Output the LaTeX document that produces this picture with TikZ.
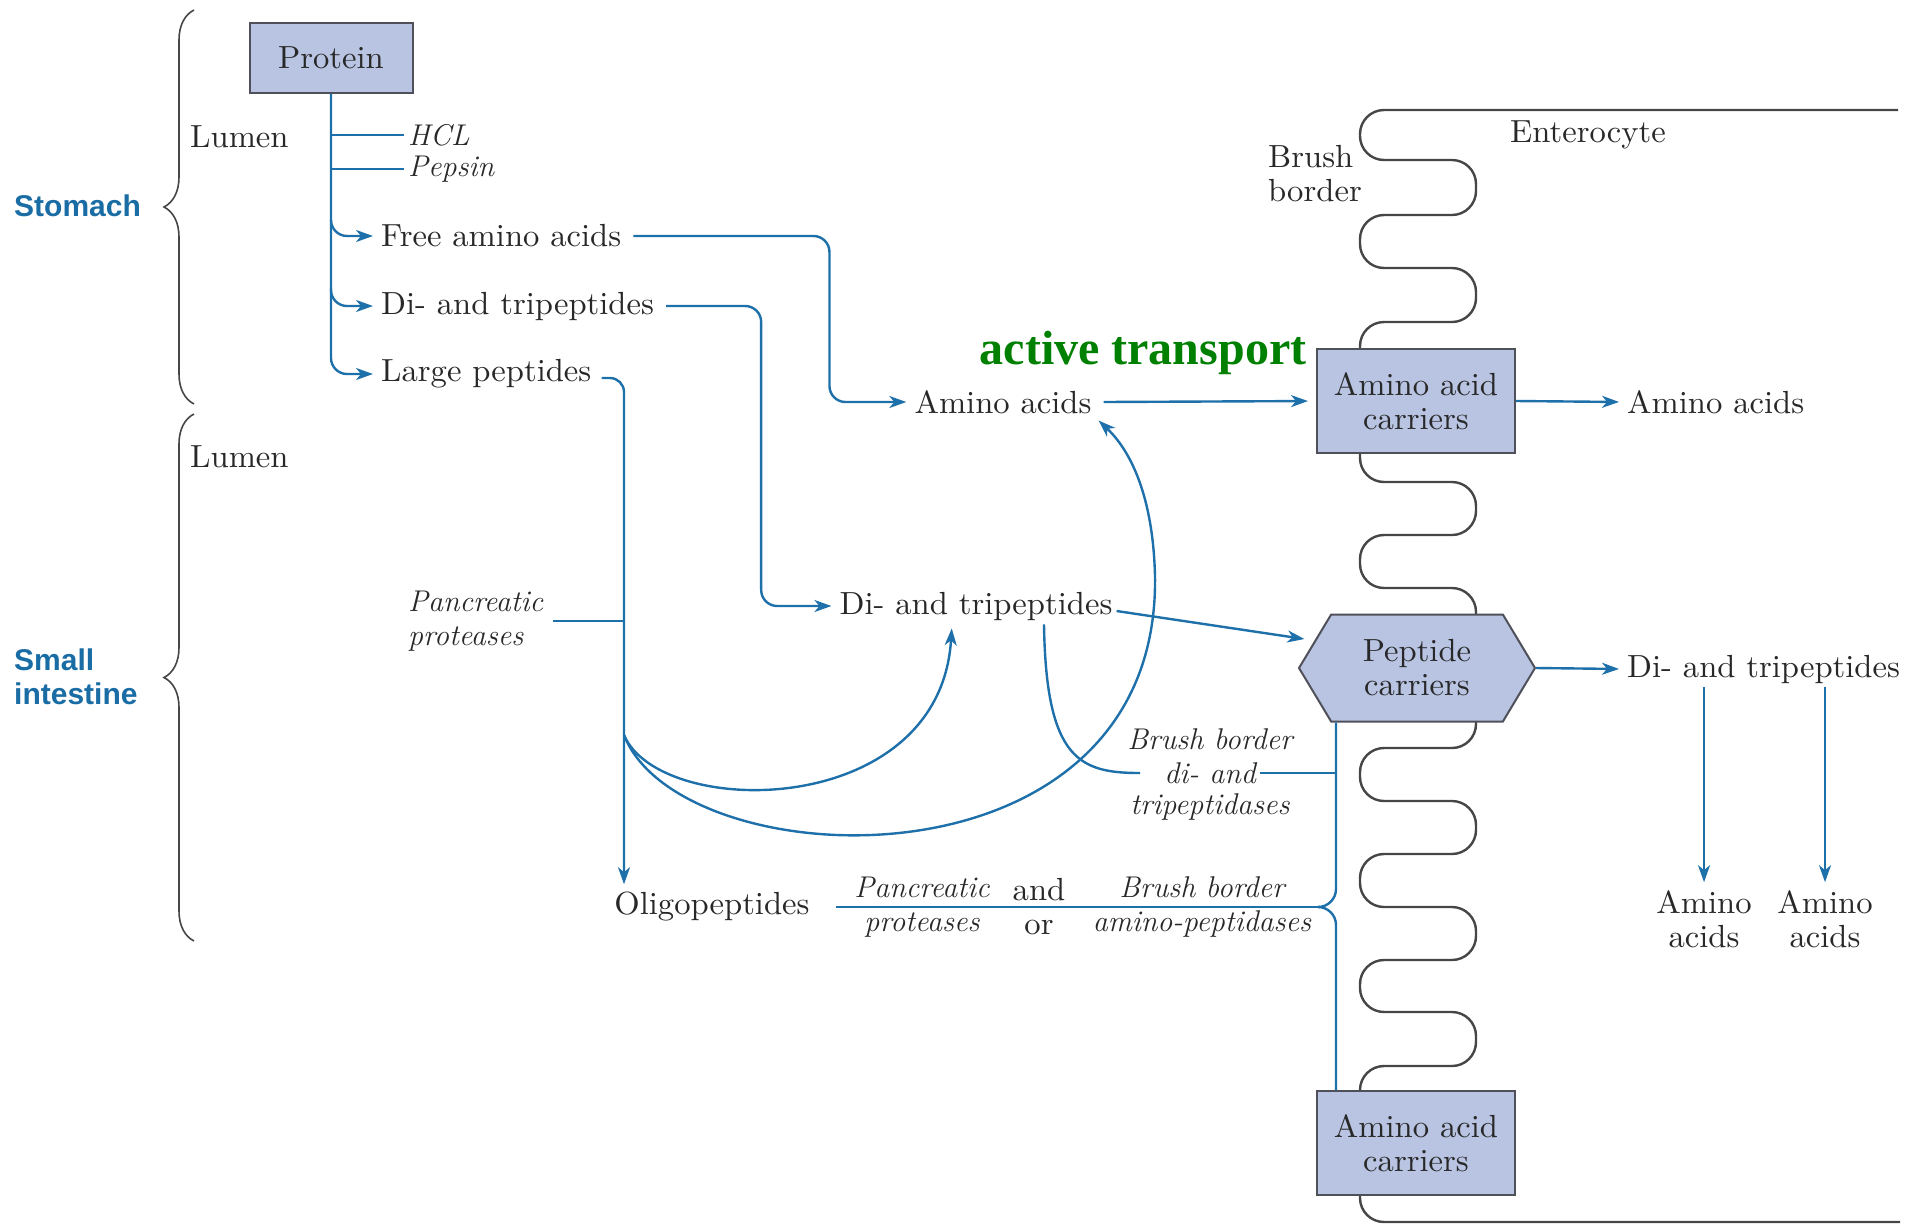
\documentclass[tikz,border=0pt]{standalone}
\usepackage{fontspec}
\newfontfamily\widefont{lmroman10-regular.otf}[FakeStretch=1.02]
\newfontfamily\regionfont{Liberation Sans}
\newfontfamily\notefont{Liberation Serif}
\usetikzlibrary{arrows.meta,shapes.symbols,decorations.pathreplacing}
\definecolor{flowblue}{RGB}{30,112,170}
\definecolor{regionblue}{RGB}{26,108,165}
\definecolor{boxfill}{RGB}{184,196,226}
\definecolor{boxline}{RGB}{80,80,90}
\definecolor{membgrey}{RGB}{70,70,70}
\definecolor{textgrey}{RGB}{40,40,40}
\definecolor{activegreen}{RGB}{0,128,0}
\tikzset{
  txt/.style={text=textgrey, font=\widefont\fontsize{32}{34}\selectfont, inner sep=4pt},
  enz/.style={txt, font=\fontsize{30}{34}\selectfont\itshape, align=center},
  carrier/.style={txt, draw=boxline, fill=boxfill, line width=2pt, align=center,
    minimum width=198pt, minimum height=104pt},
  flow/.style={draw=flowblue, line width=2.4pt},
  arr/.style={flow, -{Stealth[length=17pt,width=12pt,inset=5pt]}, shorten >=4pt},
  region/.style={text=regionblue, font=\regionfont\bfseries\fontsize{30}{34}\selectfont,
    align=left, inner sep=2pt},
  curly/.style={draw=membgrey, line width=1.6pt, decorate, decoration={brace, amplitude=30pt}},
  membrane/.style={draw=membgrey, line width=2.4pt, rounded corners=24pt}
}
\begin{document}
\begin{tikzpicture}[x=1pt, y=-1pt]
  \useasboundingbox (0,0) rectangle (1921,1224);

  % brush border of the enterocyte
  \draw[membrane] (1898,110) -- (1360,110) -- (1360,160) -- (1476,160) -- (1476,215)
    -- (1360,215) -- (1360,268) -- (1476,268) -- (1476,322) -- (1360,322) -- (1360,482)
    -- (1476,482) -- (1476,535) -- (1360,535) -- (1360,588) -- (1476,588) -- (1476,748)
    -- (1360,748) -- (1360,801) -- (1476,801) -- (1476,854) -- (1360,854) -- (1360,907)
    -- (1476,907) -- (1476,960) -- (1360,960) -- (1360,1012) -- (1476,1012) -- (1476,1066)
    -- (1360,1066) -- (1360,1222) -- (1900,1222);

  \draw[curly] (194,404) -- (194,10);
  \draw[curly] (194,941) -- (194,414);

  \node[region, anchor=west] (stomach) at (12,206) {Stomach};
  \node[region, anchor=west] (smallint) at (12,677) {Small\\intestine};
  \node[txt, anchor=west] (lumenup) at (186,137) {Lumen};
  \node[txt, anchor=west] (lumenlow) at (186,457) {Lumen};

  \node[carrier, minimum width=163pt, minimum height=70pt] (protein) at (331,58) {Protein};
  \node[enz, anchor=west] (hcl) at (404,135) {HCL};
  \node[enz, anchor=west] (pepsin) at (404,169) {Pepsin};
  \node[txt, anchor=west] (free) at (377,236) {Free amino acids};
  \node[txt, anchor=west] (dione) at (377,306) {Di- and tripeptides};
  \node[txt, anchor=west] (large) at (377,374) {Large peptides};
  \node[enz, anchor=west, align=left] (pancone) at (404,621) {Pancreatic\\proteases};

  \node[txt] (aamid) at (1003,402) {Amino acids};
  \node[txt] (dimid) at (976,606) {Di- and tripeptides};
  \node[txt] (oligo) at (712,907) {Oligopeptides};
  \node[text=activegreen, font=\notefont\bfseries\fontsize{48}{50}\selectfont, inner sep=0pt]
    (active) at (1143,353) {active transport};

  \node[carrier] (aacarrier) at (1416,401) {Amino acid\\carriers};
  \node[carrier, shape=signal, signal to=east and west, signal pointer angle=118,
    minimum width=236pt, minimum height=107pt] (pepcarrier) at (1417,668) {Peptide\\carriers};
  \node[carrier] (aacarrierlow) at (1416,1143) {Amino acid\\carriers};

  \node[txt] (entero) at (1588,135) {Enterocyte};
  \node[txt, anchor=west, align=left] (brush) at (1264,174) {Brush\\border};
  \node[txt, anchor=west] (aaout) at (1623,402) {Amino acids};
  \node[txt, anchor=west] (diout) at (1623,669) {Di- and tripeptides};
  \node[txt, align=center] (aaleft) at (1704,919) {Amino\\acids};
  \node[txt, align=center] (aaright) at (1825,919) {Amino\\acids};

  \node[enz] (bbtop) at (1210,739) {Brush border};
  \node[enz] (bbmid) at (1210,773) {di- and};
  \node[enz] (bbbot) at (1210,807) {tripeptidases};
  \node[enz] (pancexo) at (922,907) {Pancreatic\\proteases};
  \node[txt, align=center] (andor) at (1039,907) {and\\or};
  \node[enz] (bbamino) at (1202,907) {Brush border\\amino-peptidases};

  % stomach
  \draw[arr, rounded corners=16pt] (protein.south) |- (large.west);
  \draw[arr, rounded corners=16pt] (protein.south |- free.north) |- (free.west);
  \draw[arr, rounded corners=16pt] (protein.south |- dione.north) |- (dione.west);
  \draw[flow] (protein.south |- hcl.west) -- (hcl.west);
  \draw[flow] (protein.south |- pepsin.west) -- (pepsin.west);

  % small intestine
  \draw[arr, rounded corners=16pt] ([xshift=8pt]free.east) -- ++(196,0) |- (aamid.west);
  \draw[arr, rounded corners=16pt] ([xshift=8pt]dione.east) -- ++(95,0) |- (dimid.west);
  \coordinate (split) at (624,735);
  \draw[arr, rounded corners=14pt] ([xshift=6pt,yshift=-4pt]large.east) -| (split)
    -- (split |- oligo.north);
  \draw[flow] ([xshift=6pt]pancone.east) -- (pancone.east -| split);
  \draw[arr] (split) .. controls (660,820) and (940,820) .. ([xshift=-24pt]dimid.south);
  \draw[arr] (split) .. controls (680,880) and (1160,900) .. (1155,576)
    .. controls (1153,495) and (1130,450) .. (aamid.south east);

  % carriers
  \draw[arr, shorten >=8pt] ([xshift=8pt]aamid.east) -- (aacarrier.west);
  \draw[arr, shorten >=10pt] ([yshift=-5pt]dimid.east) -- (pepcarrier.165);
  \draw[arr] (aacarrier.east) -- (aaout.west);
  \draw[arr] (pepcarrier.east) -- (diout.west);
  \draw[arr] (aaleft |- diout.south) -- (aaleft.north);
  \draw[arr] (aaright |- diout.south) -- (aaright.north);

  % brush border enzymes
  \coordinate (stem) at ([xshift=-80pt]aacarrierlow.north);
  \coordinate (tip) at (1318,907);
  \draw[flow] ([xshift=22pt]oligo.east) -- (tip);
  \draw[flow, rounded corners=18pt] (pepcarrier.south -| stem) |- (tip);
  \draw[flow, rounded corners=18pt] (tip) -| (stem);
  \draw[flow] (bbmid.east) -- (bbmid.east -| stem);
  \draw[flow] ([xshift=68pt]dimid.south) .. controls (1046,760) and (1080,773)
    .. ([xshift=-20pt]bbmid.west);
\end{tikzpicture}
\end{document}
